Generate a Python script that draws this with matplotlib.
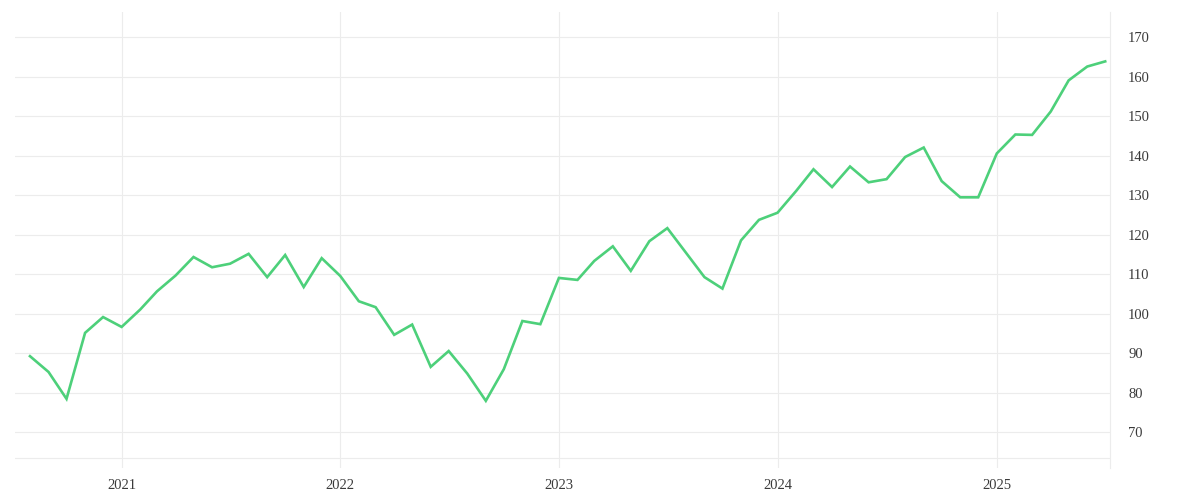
import numpy as np
import pandas as pd
import matplotlib
matplotlib.use("Agg")
import matplotlib.pyplot as plt
import matplotlib.dates as mdates

plt.rcParams['font.family'] = ['Liberation Serif', 'DejaVu Serif']

# monthly index values, Aug 2020 .. Jul 2025
start_month = "2020-08-01"
values = [
    89.3, 85.3, 78.5, 95.2, 99.2,
    96.7, 101.1, 105.7, 109.7, 114.4, 111.8, 112.7, 115.2, 109.3, 114.9, 106.8, 114.1,
    109.6, 103.2, 101.7, 94.7, 97.3, 86.6, 90.6, 84.9, 78.0, 86.0, 98.2, 97.4,
    109.1, 108.6, 113.4, 117.1, 110.9, 118.4, 121.7, 115.5, 109.3, 106.4, 118.6, 123.8,
    125.6, 131.1, 136.6, 132.1, 137.3, 133.3, 134.1, 139.7, 142.1, 133.6, 129.5, 129.5,
    140.6, 145.4, 145.3, 151.2, 159.1, 162.6, 163.9,
]
year_ticks = ["2021", "2022", "2023", "2024", "2025"]
y_ticks = [70, 80, 90, 100, 110, 120, 130, 140, 150, 160, 170]

dates = pd.date_range(start_month, periods=len(values), freq="MS")

line_color = "#4dd07a"
grid_color = "#ececec"
text_color = "#3a3a3a"

fig = plt.figure(figsize=(12, 5), dpi=100)
ax = fig.add_axes([15/1200, 32/500, 1095/1200, 456/500])

ax.plot(dates, values, color=line_color, linewidth=1.9, solid_joinstyle="miter", zorder=3)

ax.set_xlim(pd.Timestamp("2020-07-07"), pd.Timestamp("2025-07-09"))
ax.set_ylim(61.0, 176.4)

ax.set_xticks([pd.Timestamp(y + "-01-01") for y in year_ticks])
ax.set_xticklabels(year_ticks)
ax.set_yticks(y_ticks)
ax.set_yticklabels([str(v) for v in y_ticks])

ax.yaxis.tick_right()
ax.tick_params(axis="both", length=0, labelsize=10.5, labelcolor=text_color)
ax.tick_params(axis="y", pad=13)
ax.tick_params(axis="x", pad=8)

ax.grid(True, color=grid_color, linewidth=0.8)
ax.axhline(63.5, color=grid_color, linewidth=0.8, zorder=1)

for s in ["left", "top", "bottom"]:
    ax.spines[s].set_visible(False)
ax.spines["right"].set_color(grid_color)
ax.spines["right"].set_linewidth(0.8)

fig.savefig("out.png", dpi=100, facecolor="white")
